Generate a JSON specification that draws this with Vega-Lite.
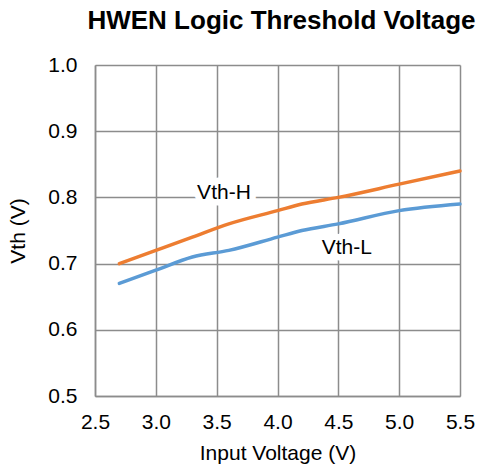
{
  "$schema": "https://vega.github.io/schema/vega-lite/v6.json",
  "width": 365,
  "height": 331,
  "autosize": "none",
  "padding": {"left": 95, "top": 65, "right": 22, "bottom": 71},
  "background": "white",
  "config": {
    "view": {"stroke": null},
    "font": "Liberation Sans",
    "axis": {
      "labelFont": "Liberation Sans",
      "titleFont": "Liberation Sans",
      "labelFontSize": 21,
      "titleFontSize": 21,
      "labelColor": "#000000",
      "titleColor": "#000000",
      "titleFontWeight": "normal",
      "gridColor": "#8c8c8c",
      "gridWidth": 1.5,
      "gridOpacity": 1,
      "domainColor": "#8c8c8c",
      "domainWidth": 1.5,
      "ticks": false
    }
  },
  "title": {
    "text": "HWEN Logic Threshold Voltage",
    "font": "Liberation Sans",
    "fontSize": 26,
    "fontWeight": "bold",
    "color": "#000000",
    "anchor": "middle",
    "dx": 4,
    "offset": 20
  },
  "datasets": {
    "curves": [
      {"vin": 2.7, "vth": 0.70, "series": "Vth-H"},
      {"vin": 3.0, "vth": 0.72, "series": "Vth-H"},
      {"vin": 3.3, "vth": 0.74, "series": "Vth-H"},
      {"vin": 3.6, "vth": 0.76, "series": "Vth-H"},
      {"vin": 4.0, "vth": 0.78, "series": "Vth-H"},
      {"vin": 4.2, "vth": 0.79, "series": "Vth-H"},
      {"vin": 4.5, "vth": 0.80, "series": "Vth-H"},
      {"vin": 5.0, "vth": 0.82, "series": "Vth-H"},
      {"vin": 5.5, "vth": 0.84, "series": "Vth-H"},
      {"vin": 2.7, "vth": 0.67, "series": "Vth-L"},
      {"vin": 3.0, "vth": 0.69, "series": "Vth-L"},
      {"vin": 3.3, "vth": 0.71, "series": "Vth-L"},
      {"vin": 3.6, "vth": 0.72, "series": "Vth-L"},
      {"vin": 4.0, "vth": 0.74, "series": "Vth-L"},
      {"vin": 4.2, "vth": 0.75, "series": "Vth-L"},
      {"vin": 4.5, "vth": 0.76, "series": "Vth-L"},
      {"vin": 5.0, "vth": 0.78, "series": "Vth-L"},
      {"vin": 5.5, "vth": 0.79, "series": "Vth-L"}
    ],
    "labels": [
      {"vin": 3.56, "vth": 0.807, "series": "Vth-H"},
      {"vin": 4.57, "vth": 0.724, "series": "Vth-L"}
    ]
  },
  "layer": [
    {
      "data": {"name": "curves"},
      "mark": {"type": "line", "interpolate": "monotone", "strokeWidth": 3.5, "strokeCap": "round"},
      "encoding": {
        "x": {
          "field": "vin", "type": "quantitative",
          "scale": {"domain": [2.5, 5.5], "nice": false, "zero": false},
          "axis": {"title": "Input Voltage (V)", "values": [2.5, 3.0, 3.5, 4.0, 4.5, 5.0, 5.5], "format": ".1f", "labelPadding": 15, "titlePadding": 10, "labelFlush": false}
        },
        "y": {
          "field": "vth", "type": "quantitative",
          "scale": {"domain": [0.5, 1.0], "nice": false, "zero": false},
          "axis": {"title": "Vth (V)", "values": [0.5, 0.6, 0.7, 0.8, 0.9, 1.0], "format": ".1f", "labelPadding": 18, "titlePadding": 19, "labelFlush": false}
        },
        "color": {
          "field": "series", "type": "nominal",
          "scale": {"domain": ["Vth-H", "Vth-L"], "range": ["#ED7D31", "#5B9BD5"]},
          "legend": null
        }
      }
    },
    {
      "data": {"name": "labels"},
      "mark": {"type": "text", "fontSize": 21, "font": "Liberation Sans", "color": "white", "stroke": "white", "strokeWidth": 13, "strokeJoin": "round", "align": "center", "baseline": "middle"},
      "encoding": {
        "x": {"field": "vin", "type": "quantitative"},
        "y": {"field": "vth", "type": "quantitative"},
        "text": {"field": "series"}
      }
    },
    {
      "data": {"name": "labels"},
      "mark": {"type": "text", "fontSize": 21, "font": "Liberation Sans", "color": "#000000", "align": "center", "baseline": "middle"},
      "encoding": {
        "x": {"field": "vin", "type": "quantitative"},
        "y": {"field": "vth", "type": "quantitative"},
        "text": {"field": "series"}
      }
    }
  ]
}
